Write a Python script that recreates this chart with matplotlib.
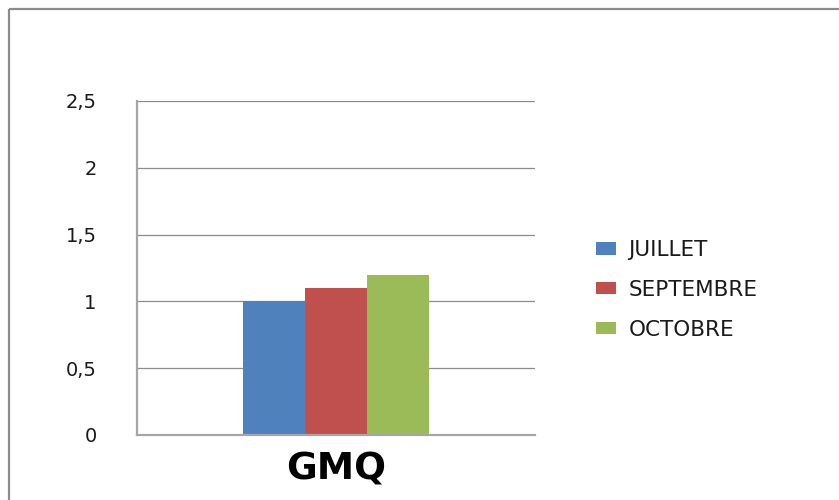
import matplotlib
matplotlib.use("Agg")
import matplotlib.pyplot as plt
from matplotlib.lines import Line2D
from matplotlib.ticker import FuncFormatter
import numpy as np

# Data
category = "GMQ"
series_names = ["JUILLET", "SEPTEMBRE", "OCTOBRE"]
series_values = [1.0, 1.1, 1.2]
series_colors = ["#4f81bd", "#c0504d", "#9bbb59"]
y_ticks = [0, 0.5, 1.0, 1.5, 2.0, 2.5]

plt.rcParams["font.family"] = ["DejaVu Sans"]

W, H = 839, 500
fig = plt.figure(figsize=(W / 100, H / 100), dpi=100)
fig.patch.set_facecolor("white")

# Outer chart frame (top and left edges)
frame_color = "#8c8c8c"
fig.add_artist(Line2D([9 / W, 1.0], [1 - 9 / H, 1 - 9 / H], transform=fig.transFigure,
                      color=frame_color, lw=1.6, solid_capstyle="butt"))
fig.add_artist(Line2D([9 / W, 9 / W], [0.0, 1 - 9 / H], transform=fig.transFigure,
                      color=frame_color, lw=1.6, solid_capstyle="butt"))

ax = fig.add_axes([137 / W, 65 / H, 398 / W, 334 / H])

bar_w = 0.156
offsets = (np.arange(len(series_values)) - (len(series_values) - 1) / 2) * bar_w
handles = []
for off, val, col, name in zip(offsets, series_values, series_colors, series_names):
    b = ax.bar(off, val, width=bar_w, color=col, edgecolor="none", label=name, zorder=3)
    handles.append(b)

ax.set_xlim(-0.5, 0.5)
ax.set_ylim(0, 2.5)
ax.set_yticks(y_ticks)
ax.yaxis.set_major_formatter(FuncFormatter(lambda v, p: f"{v:g}".replace(".", ",")))
ax.tick_params(axis="y", length=0, pad=29, labelsize=14, labelcolor="#1a1a1a")
ax.set_xticks([0])
ax.set_xticklabels([category], fontsize=27, fontweight="bold")
ax.tick_params(axis="x", length=0, pad=12)

ax.grid(axis="y", color="#8c8c8c", lw=0.9, zorder=1)
ax.set_axisbelow(True)
for s in ["top", "right"]:
    ax.spines[s].set_visible(False)
ax.spines["left"].set_color("#a6a6a6")
ax.spines["left"].set_linewidth(1.6)
ax.spines["bottom"].set_color("#a6a6a6")
ax.spines["bottom"].set_linewidth(1.6)
ax.spines["bottom"].set_zorder(4)

leg = fig.legend(handles=handles, labels=series_names, loc="center left",
                 bbox_to_anchor=(596 / W, 1 - 290 / H), frameon=False,
                 borderaxespad=0, borderpad=0,
                 fontsize=15.5, handlelength=0.95, handleheight=0.5,
                 handletextpad=0.55, labelspacing=0.92)
for t in leg.get_texts():
    t.set_color("#1a1a1a")

fig.savefig("out.png", dpi=100, facecolor="white")
